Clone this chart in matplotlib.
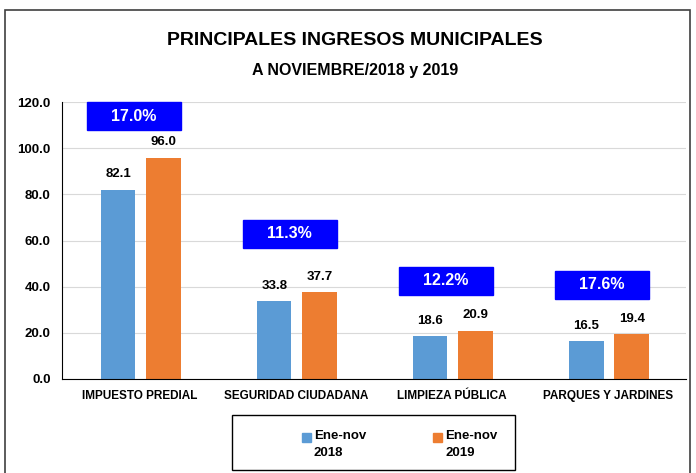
import numpy as np
import matplotlib
matplotlib.use("Agg")
from matplotlib import pyplot as plt
from matplotlib.patches import Rectangle

categorias = ['IMPUESTO PREDIAL', 'SEGURIDAD CIUDADANA', 'LIMPIEZA PÚBLICA', 'PARQUES Y JARDINES']
ene_nov_2018 = [82.1, 33.8, 18.6, 16.5]
ene_nov_2019 = [96.0, 37.7, 20.9, 19.4]
variacion = ['17.0%', '11.3%', '12.2%', '17.6%']
# vertical position of the percent boxes (data units, top of box)
caja_top = [120.0, 68.9, 48.5, 46.8]
series = ['Ene-nov\n2018', 'Ene-nov\n2019']

plt.rcParams['font.family'] = ['Liberation Sans', 'DejaVu Sans']
plt.rcParams['font.weight'] = 'bold'

azul = '#5B9BD5'
naranja = '#ED7D31'

fig = plt.figure(figsize=(6.96, 4.73), dpi=100)
ax = fig.add_axes([0.089, 0.199, 0.897, 0.585])

x = np.arange(len(categorias))
w = 0.22
b1 = ax.bar(x - 0.14, ene_nov_2018, w, color=azul)
b2 = ax.bar(x + 0.15, ene_nov_2019, w, color=naranja)

for rect, v in zip(list(b1) + list(b2), ene_nov_2018 + ene_nov_2019):
    ax.text(rect.get_x() + rect.get_width() / 2, v + 4, '%.1f' % v,
            ha='center', va='bottom', fontsize=9.5, fontweight='bold')

for i, (txt, top) in enumerate(zip(variacion, caja_top)):
    ax.add_patch(Rectangle((i - 0.34, top - 12.1), 0.6, 12.1, color='#0000FF',
                           zorder=3, clip_on=False))
    ax.text(i - 0.04, top - 6.05, txt, ha='center', va='center', color='white',
            fontsize=11.5, fontweight='bold', zorder=4)

ax.set_xlim(-0.5, 3.5)
ax.set_ylim(0, 120)
ax.set_yticks(np.arange(0, 121, 20))
ax.set_yticklabels(['%.1f' % t for t in np.arange(0, 121, 20)], fontsize=9.5, fontweight='bold')
ax.set_xticks(x)
ax.set_xticklabels(categorias, fontsize=8.5, fontweight='bold')
ax.tick_params(axis='both', length=0, pad=8)
ax.grid(axis='y', color='#D9D9D9', linewidth=0.8)
ax.set_axisbelow(True)
for s in ['top', 'right']:
    ax.spines[s].set_visible(False)
ax.spines['left'].set_color('black')
ax.spines['bottom'].set_color('black')

fig.text(0.51, 0.915, 'PRINCIPALES INGRESOS MUNICIPALES', ha='center', va='center',
         fontsize=14, fontweight='bold')
fig.text(0.51, 0.852, 'A NOVIEMBRE/2018 y 2019', ha='center', va='center',
         fontsize=11.5, fontweight='bold')

# legend box drawn by hand so the marker sits beside the first line
W, H = 696.0, 473.0
fig.patches.append(Rectangle((232 / W, 1 - 470 / H), 283 / W, 55 / H,
                             transform=fig.transFigure, fill=False,
                             edgecolor='black', linewidth=1.0))
for lbl, col, px in zip(series, [azul, naranja], [302, 433]):
    fig.patches.append(Rectangle((px / W, 1 - 442 / H), 9 / W, 9 / H,
                                 transform=fig.transFigure, color=col))
    fig.text((px + 12) / W, 1 - 430 / H, lbl, ha='left', va='top',
             fontsize=9.5, fontweight='bold', linespacing=1.6)

fig.patches.append(Rectangle((5 / W, -0.01), 685 / W, 1 - 10 / H + 0.01,
                             transform=fig.transFigure, fill=False,
                             edgecolor='#404040', linewidth=1.2))

fig.savefig('out.png', dpi=100)
